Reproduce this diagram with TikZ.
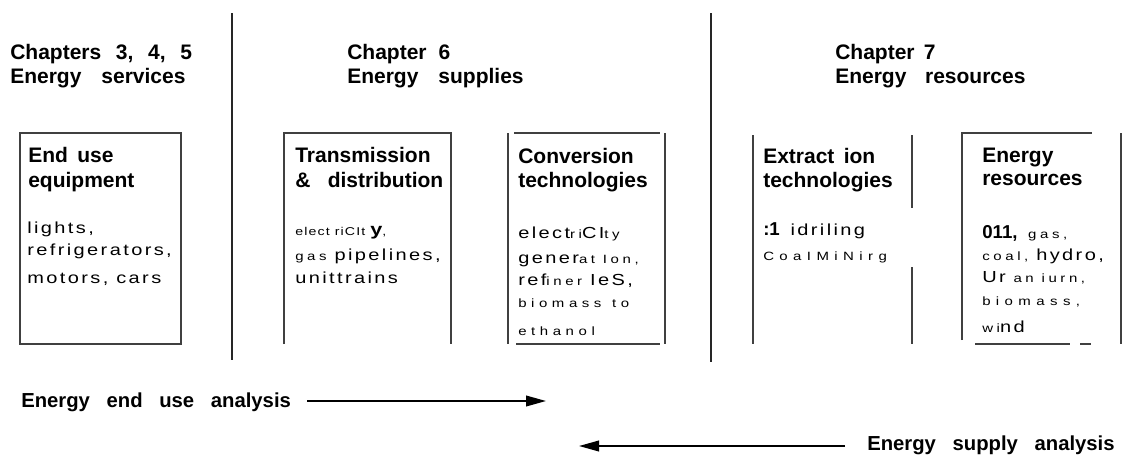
\documentclass[tikz,border=0pt]{standalone}
\usepackage{fontspec}
\setmainfont{Liberation Sans}
\newfontfamily\bodyfont[FakeStretch=1.25,LetterSpace=15]{Liberation Sans}
\newfontfamily\smallfont[FakeStretch=1.25,LetterSpace=30]{Liberation Sans}
\usetikzlibrary{arrows.meta}
\newcommand\wg[1]{\hspace*{#1pt}}
\tikzset{
  chap/.style={anchor=base west,inner sep=0pt,font=\bfseries\fontsize{15.75}{19}\selectfont},
  bhead/.style={anchor=base west,inner sep=0pt,font=\bfseries\fontsize{15.75}{19}\selectfont},
  foot/.style={anchor=base west,inner sep=0pt,font=\bfseries\fontsize{15.2}{18}\selectfont},
  body/.style={anchor=base west,inner sep=0pt,font=\bodyfont\fontsize{12}{15}\selectfont},
  sbody/.style={anchor=base west,inner sep=0pt,font=\smallfont\fontsize{9}{12}\selectfont},
  boxline/.style={draw=black!75,line width=0.9pt},
  divider/.style={draw=black!85,line width=1.4pt},
  flow/.style={draw=black,line width=1.3pt,-{Triangle[length=15pt,width=8pt]}}
}
\newcommand\sm[1]{{\smallfont\fontsize{9}{12}\selectfont #1}}
\newcommand\bd[1]{{\normalfont\bfseries\fontsize{14}{15}\selectfont #1}}
\begin{document}
\begin{tikzpicture}[x=0.75pt,y=-0.75pt]
\path[use as bounding box,fill=white] (0,0) rectangle (1122,455);

% dividers
\coordinate (d1t) at (232,13); \coordinate (d1b) at (232,360);
\coordinate (d2t) at (711,13); \coordinate (d2b) at (711,362);
\draw[divider] (d1t) -- (d1b);
\draw[divider] (d2t) -- (d2b);

% chapter headers
\node[chap] (c1a) at (10,59) {Chapters\wg{11}3,\wg{11}4,\wg{11}5};
\node[chap] (c1b) at (10,83) {Energy\wg{15}services};
\node[chap] (c2a) at (347,59) {Chapter\wg{9}6};
\node[chap] (c2b) at (347,83) {Energy\wg{15}supplies};
\node[chap] (c3a) at (835,59) {Chapter\wg{7}7};
\node[chap] (c3b) at (835,83) {Energy\wg{14}resources};

% box 1
\coordinate (b1a) at (20,133); \coordinate (b1b) at (181,344);
\draw[boxline] (b1a) rectangle (b1b);
\node[bhead] (h1a) at (28,162) {End\wg{7}use};
\node[bhead] (h1b) at (28,187) {equipment};
\node[body] (t1a) at (27,233) {lights,};
\node[body] (t1b) at (27,255) {refrigerators,};
\node[body] (t1c) at (27,283) {motors, cars};

% box 2
\coordinate (b2a) at (284,344); \coordinate (b2b) at (284,133);
\coordinate (b2c) at (451,133); \coordinate (b2d) at (451,344);
\draw[boxline] (b2a) -- (b2b) -- (b2c) -- (b2d);
\node[bhead] (h2a) at (295,162) {Transmission};
\node[bhead] (h2b) at (295,187) {\&\wg{13}distribution};
\node[sbody,font=\smallfont\fontsize{8.5}{12}\selectfont\addfontfeatures{LetterSpace=10}] (t2a) at (295,235) {elect riCIt {\fontsize{13}{14}\selectfont\bfseries y},};
\node[body] (t2b) at (295,260) {\sm{gas} pipelines,};
\node[body] (t2c) at (295,283) {unittrains};

% box 3
\coordinate (b3a) at (508,133); \coordinate (b3b) at (508,344);
\coordinate (b3c) at (665,133); \coordinate (b3d) at (665,344);
\coordinate (b3e) at (514,133); \coordinate (b3f) at (660,133);
\coordinate (b3g) at (516,344); \coordinate (b3h) at (660,344);
\draw[boxline] (b3a) -- (b3b);
\draw[boxline] (b3c) -- (b3d);
\draw[boxline] (b3e) -- (b3f);
\draw[boxline] (b3g) -- (b3h);
\node[bhead] (h3a) at (518,163) {Conversion};
\node[bhead] (h3b) at (518,187) {technologies};
\node[body] (t3a) at (518,238) {elect\sm{ri}CI\sm{ty}};
\node[body] (t3b) at (518,263) {gener\sm{at Ion,}};
\node[body] (t3c) at (518,285) {ref\sm{iner} IeS,};
\node[sbody,font=\smallfont\fontsize{9}{12}\selectfont\addfontfeatures{LetterSpace=38}] (t3d) at (518,307) {biomass\wg{8}to};
\node[sbody,font=\smallfont\fontsize{9}{12}\selectfont\addfontfeatures{LetterSpace=38}] (t3e) at (518,335) {ethanol};

% box 4
\coordinate (b4a) at (753,135); \coordinate (b4b) at (753,344);
\coordinate (b4c) at (912,135); \coordinate (b4d) at (912,208);
\coordinate (b4e) at (912,267); \coordinate (b4f) at (912,344);
\draw[boxline] (b4a) -- (b4b);
\draw[boxline] (b4c) -- (b4d);
\draw[boxline] (b4e) -- (b4f);
\node[bhead] (h4a) at (763,163) {Extract\wg{7}ion};
\node[bhead] (h4b) at (763,187) {technologies};
\node[body] (t4a) at (763,235) {\bd{:1}\wg{8}idriling};
\node[sbody,font=\smallfont\fontsize{9}{12}\selectfont\addfontfeatures{LetterSpace=45}] (t4b) at (763,260) {CoaIMiNirg};

% box 5
\coordinate (b5a) at (962,340); \coordinate (b5b) at (962,133);
\coordinate (b5c) at (1092,133);
\coordinate (b5d) at (1121,133); \coordinate (b5e) at (1121,344);
\coordinate (b5f) at (975,344); \coordinate (b5g) at (1070,344);
\coordinate (b5h) at (1080,344); \coordinate (b5i) at (1091,344);
\draw[boxline] (b5a) -- (b5b) -- (b5c);
\draw[boxline] (b5d) -- (b5e);
\draw[boxline] (b5f) -- (b5g);
\draw[boxline] (b5h) -- (b5i);
\node[bhead] (h5a) at (982,162) {Energy};
\node[bhead] (h5b) at (982,185) {resources};
\node[body] (t5a) at (982,238) {\bd{011,}\wg{8}\sm{gas,}};
\node[body] (t5b) at (982,260) {\sm{coal,} hydro,};
\node[sbody] (t5c) at (982,282) {{\bodyfont\fontsize{12}{15}\selectfont Ur} an iurn,};
\node[sbody,font=\smallfont\fontsize{9}{12}\selectfont\addfontfeatures{LetterSpace=45}] (t5d) at (982,305) {biomass,};
\node[body] (t5e) at (982,332) {\sm{wi}nd};

% analysis arrows
\node[foot] (ea) at (21,407) {Energy\wg{12.5}end\wg{12.5}use\wg{12.5}analysis};
\coordinate (ea1) at (307,401); \coordinate (ea2) at (546,401);
\draw[flow] (ea1) -- (ea2);
\node[foot] (sa) at (867,450) {Energy\wg{12.5}supply\wg{12.5}analysis};
\coordinate (sa1) at (845,446); \coordinate (sa2) at (579,446);
\draw[flow] (sa1) -- (sa2);
\end{tikzpicture}
\end{document}
